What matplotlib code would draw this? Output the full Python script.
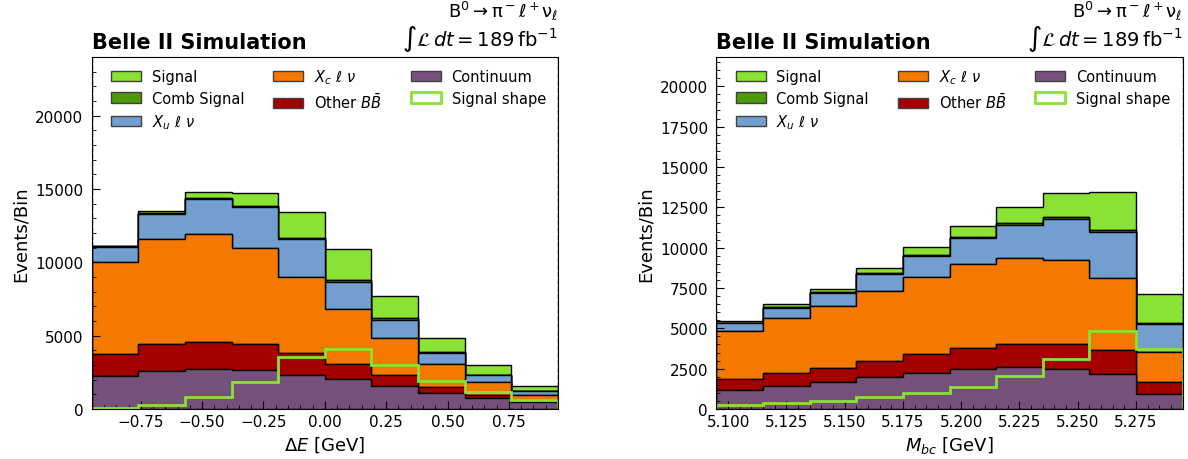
import numpy as np
import matplotlib
matplotlib.use('Agg')
import matplotlib.pyplot as plt
from matplotlib.patches import Patch
from matplotlib.ticker import MultipleLocator

# binning
de_edges = np.linspace(-0.95, 0.95, 11)
mbc_edges = np.linspace(5.095, 5.295, 11)

# Delta E components (events per bin)
de_continuum = [2250, 2610, 2750, 2630, 2340, 2020, 1560, 1100, 780, 460]
de_otherbb = [1530, 1790, 1830, 1790, 1510, 1070, 730, 390, 180, 140]
de_xc = [6230, 7190, 7330, 6530, 5150, 3740, 2520, 1560, 870, 360]
de_xu = [1030, 1690, 2400, 2790, 2560, 1850, 1280, 800, 460, 250]
de_comb = [40, 50, 60, 70, 90, 100, 80, 60, 40, 30]
de_signal = [50, 160, 420, 940, 1770, 2100, 1500, 945, 650, 360]
de_shape = [50, 275, 800, 1830, 3550, 4075, 3020, 1900, 1190, 640]

# Mbc components
mbc_continuum = [1200, 1450, 1700, 1975, 2220, 2450, 2600, 2490, 2160, 915]
mbc_otherbb = [650, 770, 835, 995, 1205, 1305, 1450, 1560, 1470, 785]
mbc_xc = [2965, 3430, 3865, 4340, 4755, 5215, 5295, 5170, 4470, 1850]
mbc_xu = [500, 620, 765, 1040, 1290, 1620, 2075, 2555, 2860, 1700]
mbc_comb = [40, 50, 60, 70, 80, 90, 100, 110, 110, 100]
mbc_signal = [125, 160, 205, 300, 460, 640, 980, 1490, 2380, 1770]
mbc_shape = [250, 355, 500, 730, 1000, 1390, 2075, 3070, 4860, 3690]

labels = ['Continuum', r'Other $B\bar{B}$', r'$X_c\ \ell\ \nu$', r'$X_u\ \ell\ \nu$',
          'Comb Signal', 'Signal']
colors = ['#75507b', '#a40000', '#f57900', '#729fcf', '#4e9a06', '#8ae234']
shape_color = '#8ae234'

fig, axes = plt.subplots(1, 2, figsize=(11.88, 4.6), dpi=100)
fig.subplots_adjust(left=0.0772, right=0.9955, bottom=0.1087, top=0.873, wspace=0.34)


def draw(ax, edges, comps, shape, xlabel, xmaj, xmin, ymaj, ymin):
    centers = 0.5 * (edges[1:] + edges[:-1])
    ax.hist([centers] * len(comps), bins=edges, weights=comps, stacked=True,
            histtype='stepfilled', color=colors, edgecolor='black', linewidth=1)
    ax.hist(centers, bins=edges, weights=shape, histtype='step',
            color=shape_color, linewidth=2)
    ax.axvline(edges[0], color='black', ls='--', lw=1)
    ax.axvline(edges[-1], color='black', ls='--', lw=1)
    top = np.sum(comps, axis=0).max()
    ax.set_xlim(edges[0], edges[-1])
    ax.set_ylim(0, top * 1.62)
    ax.set_xlabel(xlabel, fontsize=13)
    ax.set_ylabel('Events/Bin', fontsize=13)
    ax.xaxis.set_major_locator(MultipleLocator(xmaj))
    ax.xaxis.set_minor_locator(MultipleLocator(xmin))
    ax.yaxis.set_major_locator(MultipleLocator(ymaj))
    ax.yaxis.set_minor_locator(MultipleLocator(ymin))
    ax.tick_params(which='both', direction='in', labelsize=11)
    ax.tick_params(axis='y', pad=6)
    ax.tick_params(which='major', length=6)
    ax.tick_params(which='minor', length=3)

    ec = '0.25'
    handles = [Patch(facecolor=colors[5], edgecolor=ec, label='Signal'),
               Patch(facecolor=colors[4], edgecolor=ec, label='Comb Signal'),
               Patch(facecolor=colors[3], edgecolor=ec, label=labels[3]),
               Patch(facecolor=colors[2], edgecolor=ec, label=labels[2]),
               Patch(facecolor=colors[1], edgecolor=ec, label=labels[1]),
               Patch(facecolor=colors[0], edgecolor=ec, label='Continuum'),
               Patch(facecolor='white', edgecolor=shape_color, linewidth=2,
                     label='Signal shape')]
    ax.legend(handles=handles, ncol=3, frameon=False, fontsize=10.5,
              loc='upper left', bbox_to_anchor=(0.013, 1.009),
              columnspacing=2.0, handlelength=2.05, handletextpad=0.75,
              labelspacing=0.43)

    ax.text(0.0, 1.028, 'Belle II Simulation', transform=ax.transAxes,
            fontsize=15, fontweight='bold', ha='left', va='baseline')
    ax.text(1.0, 1.036, r'$\int\mathcal{L}\,dt = 189\,\mathrm{fb}^{-1}$',
            transform=ax.transAxes, fontsize=14, ha='right', va='baseline')
    ax.text(1.0, 1.114, r'$\mathrm{B^0 \to \pi^- \ell^+ \nu_\ell}$',
            transform=ax.transAxes, fontsize=13, ha='right', va='baseline')


draw(axes[0], de_edges,
     [de_continuum, de_otherbb, de_xc, de_xu, de_comb, de_signal],
     de_shape, r'$\Delta E$ [GeV]', 0.25, 0.05, 5000, 1000)
draw(axes[1], mbc_edges,
     [mbc_continuum, mbc_otherbb, mbc_xc, mbc_xu, mbc_comb, mbc_signal],
     mbc_shape, r'$M_{bc}$ [GeV]', 0.025, 0.005, 2500, 500)

fig.savefig('out.png', dpi=100)
